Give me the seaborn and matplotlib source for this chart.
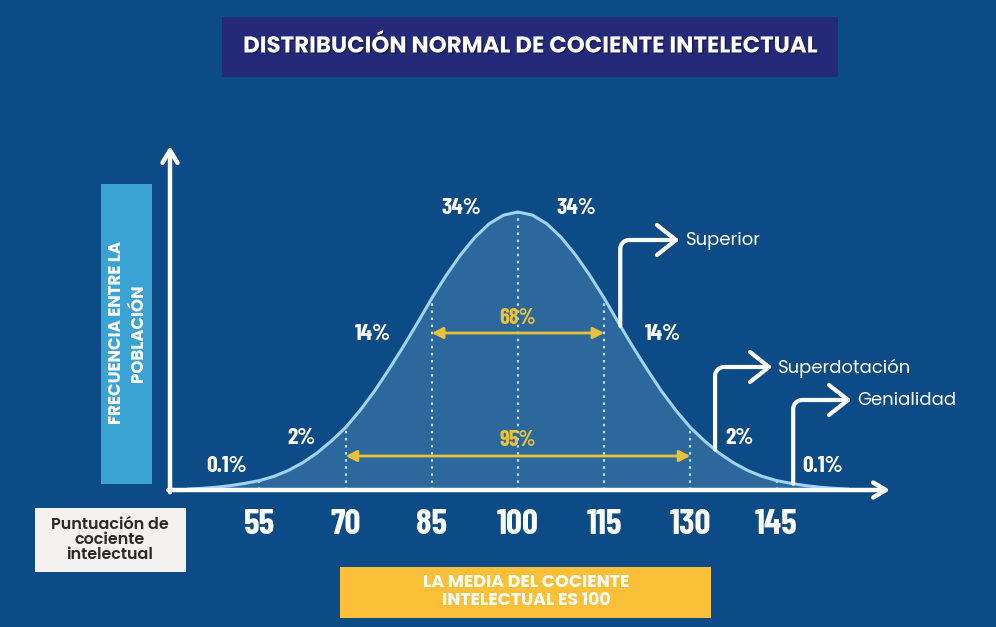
import numpy as np
import pandas as pd
import seaborn as sns
import matplotlib
matplotlib.use("Agg")
import matplotlib.pyplot as plt
from matplotlib.patches import Rectangle
from matplotlib import font_manager as fm
import matplotlib.patheffects as pe

# ---------------- data ----------------
iq_values = [42.5, 45, 47.5, 50, 52.5, 55, 57.5, 60, 62.5, 65, 67.5, 70, 72.5, 75, 77.5,
             80, 82.5, 85, 87.5, 90, 92.5, 95, 97.5, 100, 102.5, 105, 107.5, 110, 112.5,
             115, 117.5, 120, 122.5, 125, 127.5, 130, 132.5, 135, 137.5, 140, 142.5, 145,
             147.5, 150, 152.5, 155, 157.5]
freq_values = [0.003, 0.006, 0.010, 0.016, 0.024, 0.034, 0.049, 0.070, 0.098, 0.133, 0.176,
               0.225, 0.286, 0.355, 0.433, 0.515, 0.601, 0.690, 0.772, 0.846, 0.909, 0.958,
               0.989, 1.000, 0.989, 0.958, 0.909, 0.846, 0.772, 0.690, 0.601, 0.515, 0.433,
               0.355, 0.286, 0.225, 0.176, 0.133, 0.098, 0.070, 0.049, 0.034, 0.024, 0.016,
               0.010, 0.006, 0.003]

tick_values = [55, 70, 85, 100, 115, 130, 145]

pct_labels = ["0.1%", "2%", "14%", "34%", "34%", "14%", "2%", "0.1%"]
pct_x = [49.2, 62.4, 74.8, 90.1, 110.1, 125.2, 138.6, 153.1]
pct_y = [0.086, 0.187, 0.561, 1.014, 1.014, 0.561, 0.187, 0.086]

range_labels = ["68%", "95%"]
range_lo = [85, 70]
range_hi = [115, 130]

category_labels = ["Superior", "Superdotación", "Genialidad"]
category_iq = [117.8, 134.3, 147.9]

title_text = "DISTRIBUCIÓN NORMAL DE COCIENTE INTELECTUAL"
ylabel_text = "FRECUENCIA ENTRE LA\nPOBLACIÓN"
xlabel_text = "Puntuación de\ncociente\nintelectual"
mean_text = "LA MEDIA DEL COCIENTE\nINTELECTUAL ES 100"

# ---------------- style ----------------
BG = "#0c4b86"
FILL = "#2c689c"
CURVE = "#9fd2f4"
YELLOW = "#e9c23c"

sns.set_theme(style="white")


def _w(f):
    w = f.weight
    if isinstance(w, str):
        w = fm.weight_dict.get(w, 400)
    return int(w)


def pick_family(cands):
    for c in cands:
        ws = [_w(f) for f in fm.fontManager.ttflist if f.name == c and f.style == "normal"]
        if any(w >= 600 for w in ws) and any(380 <= w <= 500 for w in ws):
            return c
    return "DejaVu Sans"


SANS = pick_family(["Montserrat", "Poppins", "Open Sans"])
COND_FAM = pick_family(["Barlow Condensed", "Roboto Condensed"])
plt.rcParams["font.family"] = [SANS, "DejaVu Sans"]
COND = dict(family=[COND_FAM, "DejaVu Sans"], weight="bold")

# pixel <-> data helpers (layout only)
PX_PER_IQ = 5.745
X_MEAN_PX = 518
Y_BASE_PX = 490
PX_PER_H = 278
W, H = 996, 627


def px2x(px):
    return 100 + (px - X_MEAN_PX) / PX_PER_IQ


def py2y(py):
    return (Y_BASE_PX - py) / PX_PER_H


def x2px(x):
    return X_MEAN_PX + (x - 100) * PX_PER_IQ


def y2py(y):
    return Y_BASE_PX - y * PX_PER_H


fig = plt.figure(figsize=(W / 100, H / 100), dpi=100, facecolor=BG)
ax = fig.add_axes([0, 0, 1, 1])
ax.set_facecolor(BG)
ax.set_xlim(px2x(0), px2x(W))
ax.set_ylim(py2y(H), py2y(0))
ax.axis("off")

df = pd.DataFrame({"iq": iq_values, "freq": freq_values})

# fill + curve
ax.fill_between(df["iq"], 0, df["freq"], color=FILL, lw=0, zorder=1)
sns.lineplot(data=df, x="iq", y="freq", ax=ax, color=CURVE, lw=2.2, sort=False,
             zorder=4, legend=False)

# dotted lines at ticks
for t in tick_values:
    h = float(df.loc[df["iq"] == t, "freq"].iloc[0])
    ax.plot([t, t], [0, h], color="#c0e0f8", lw=1.5, ls=(0, (1.2, 2.2)), zorder=3)

# tick labels
for t in tick_values:
    ax.text(t, py2y(525), str(t), ha="center", va="center", color="white",
            fontsize=25.5, **COND, zorder=6)

# percent labels
for lab, x, y in zip(pct_labels, pct_x, pct_y):
    ax.text(x, y, lab, ha="center", va="center", color="white", fontsize=17, **COND, zorder=6)

# range arrows
range_arrow_y = [py2y(333), py2y(456)]
range_text_y = [py2y(318), py2y(440)]
for lab, lo, hi, ay, ty in zip(range_labels, range_lo, range_hi, range_arrow_y, range_text_y):
    ax.annotate("", xy=(hi, ay), xytext=(lo, ay),
                arrowprops=dict(arrowstyle="<|-|>,head_length=0.55,head_width=0.28",
                                color=YELLOW, lw=2.0, shrinkA=0, shrinkB=0), zorder=5)
    ax.text(100, ty, lab, ha="center", va="center", color=YELLOW, fontsize=16, **COND, zorder=6)

# axes arrows
x_axis_left = px2x(170)
ax.annotate("", xy=(px2x(890), 0), xytext=(x_axis_left - 0.3, 0),
            arrowprops=dict(arrowstyle="->,head_length=0.75,head_width=0.45", color="white",
                            lw=3.2, shrinkA=0, shrinkB=0, capstyle="round", joinstyle="round"),
            zorder=7)
ax.annotate("", xy=(x_axis_left, py2y(146)), xytext=(x_axis_left, -0.008),
            arrowprops=dict(arrowstyle="->,head_length=0.75,head_width=0.45", color="white",
                            lw=3.2, shrinkA=0, shrinkB=0, capstyle="round", joinstyle="round"),
            zorder=7)

# ---------------- decoration overlay in pixel coords ----------------
deco = fig.add_axes([0, 0, 1, 1], zorder=10)
deco.set_xlim(0, W)
deco.set_ylim(H, 0)
deco.axis("off")
deco.patch.set_alpha(0)

# bent arrows for categories
bend_y = [240, 367, 400]
tip_x = [676, 769, 848]
text_x = [686, 778, 857]
for lab, iqv, by, tx, lx in zip(category_labels, category_iq, bend_y, tip_x, text_x):
    sx = x2px(iqv)
    sy = y2py(np.interp(iqv, iq_values, freq_values))
    r = 9
    t = np.linspace(0, np.pi / 2, 12)
    cx, cy = sx + r, by + r
    arc_x = cx - r * np.cos(t)
    arc_y = cy - r * np.sin(t)
    xs = np.concatenate([[sx], arc_x, [tx]])
    ys = np.concatenate([[sy], arc_y, [by]])
    deco.plot(xs, ys, color="white", lw=3.0, solid_capstyle="round", solid_joinstyle="round")
    deco.plot([tx - 19, tx, tx - 19], [by - 15, by, by + 15], color="white", lw=3.0,
              solid_capstyle="round", solid_joinstyle="round")
    deco.text(lx, by + 1, lab, ha="left", va="center", color="white", fontsize=13)

# title box
deco.add_patch(Rectangle((222, 17), 616, 60, facecolor="#25297a", edgecolor="none"))
deco.text(530, 47, title_text, ha="center", va="center", color="white", fontsize=16.5,
          fontweight="bold",
          path_effects=[pe.withSimplePatchShadow(offset=(1, -1), shadow_rgbFace="#10123a", alpha=0.6)])

# y label box
deco.add_patch(Rectangle((101, 184), 51, 300, facecolor="#3aa3d4", edgecolor="none"))
deco.text(128, 333, ylabel_text, ha="center", va="center", rotation=90, color="white",
          fontsize=12, fontweight="bold", linespacing=1.3, multialignment="center")

# x label box
deco.add_patch(Rectangle((35, 508), 151, 64, facecolor="#f4f2f0", edgecolor="none"))
deco.text(110, 540, xlabel_text, ha="center", va="center", color="#2a2a2a",
          fontsize=11.5, fontweight="semibold", linespacing=0.95, multialignment="center")

# mean box
deco.add_patch(Rectangle((340, 567), 371, 51, facecolor="#fbbf38", edgecolor="none"))
deco.text(526, 592, mean_text, ha="center", va="center", color="white",
          fontsize=12.5, fontweight="bold", linespacing=1.0, multialignment="center")

fig.savefig("out.png", dpi=100, facecolor=BG)
